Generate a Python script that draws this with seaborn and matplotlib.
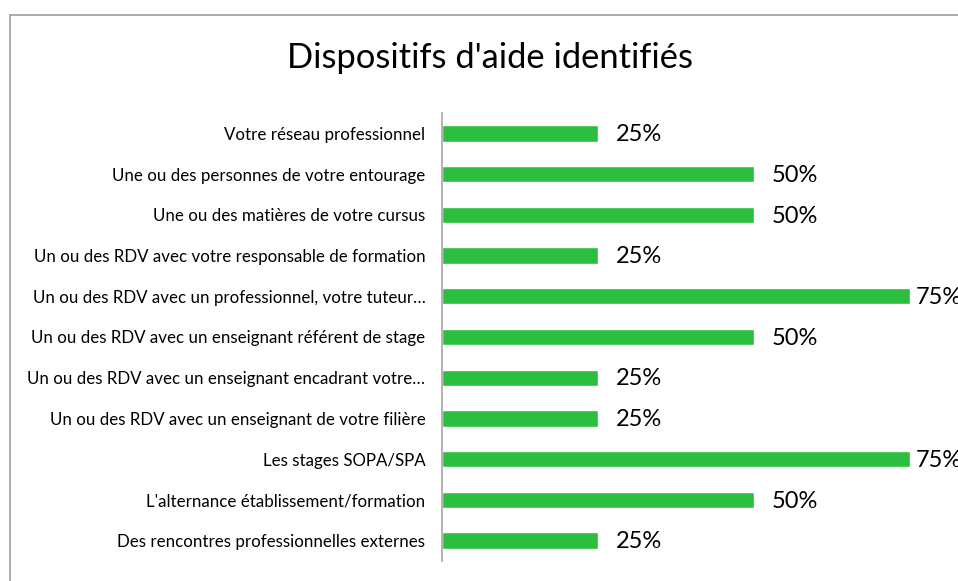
import matplotlib
matplotlib.use("Agg")
import matplotlib.pyplot as plt
import seaborn as sns
import pandas as pd
from matplotlib.patches import Rectangle

categories = [
    "Votre réseau professionnel",
    "Une ou des personnes de votre entourage",
    "Une ou des matières de votre cursus",
    "Un ou des RDV avec votre responsable de formation",
    "Un ou des RDV avec un professionnel, votre tuteur…",
    "Un ou des RDV avec un enseignant référent de stage",
    "Un ou des RDV avec un enseignant encadrant votre…",
    "Un ou des RDV avec un enseignant de votre filière",
    "Les stages SOPA/SPA",
    "L'alternance établissement/formation",
    "Des rencontres professionnelles externes",
]
values = [25, 50, 50, 25, 75, 50, 25, 25, 75, 50, 25]
value_labels = ["25%", "50%", "50%", "25%", "75%", "50%", "25%", "25%", "75%", "50%", "25%"]

sns.set_style("white")
plt.rcParams['font.family'] = ['Lato', 'DejaVu Sans']

W, H = 958, 581
fig = plt.figure(figsize=(W / 100, H / 100), dpi=100)
fig.patch.set_facecolor("white")

ax = fig.add_axes([442 / W, 1 - 561 / H, 1 - 442 / W, (561 - 113) / H])
df = pd.DataFrame({"cat": categories, "val": values})
sns.barplot(data=df, x="val", y="cat", orient="h", color="#2cbf3f",
            saturation=1, width=0.4, ax=ax)

ax.set_xlim(0, (W - 442) / 468 * 75)
ax.set_ylim(len(categories) - 0.5, -0.5)
ax.set_xlabel("")
ax.set_ylabel("")
ax.set_xticks([])
for s in ["top", "right", "bottom"]:
    ax.spines[s].set_visible(False)
ax.spines["left"].set_color("#a6a6a6")
ax.spines["left"].set_linewidth(1.2)
ax.tick_params(axis="y", length=0, pad=12, labelsize=12.2, colors="black")

vmax = max(values)
for i, (v, lab) in enumerate(zip(values, value_labels)):
    off = 1.0 if v == vmax else 2.8
    ax.text(v + off, i + 0.03, lab, va="center", ha="left", fontsize=17,
            color="black", clip_on=False)

fig.text(490 / W, 1 - 58 / H, "Dispositifs d'aide identifiés", ha="center",
         va="center", fontsize=24.8, color="black")

fig.patches.append(Rectangle((9.5 / W, -0.1), 1.2, 1 - 14.5 / H + 0.1,
                             transform=fig.transFigure, fill=False,
                             edgecolor="#9e9e9e", linewidth=1.2))

fig.savefig("out.png", dpi=100)
